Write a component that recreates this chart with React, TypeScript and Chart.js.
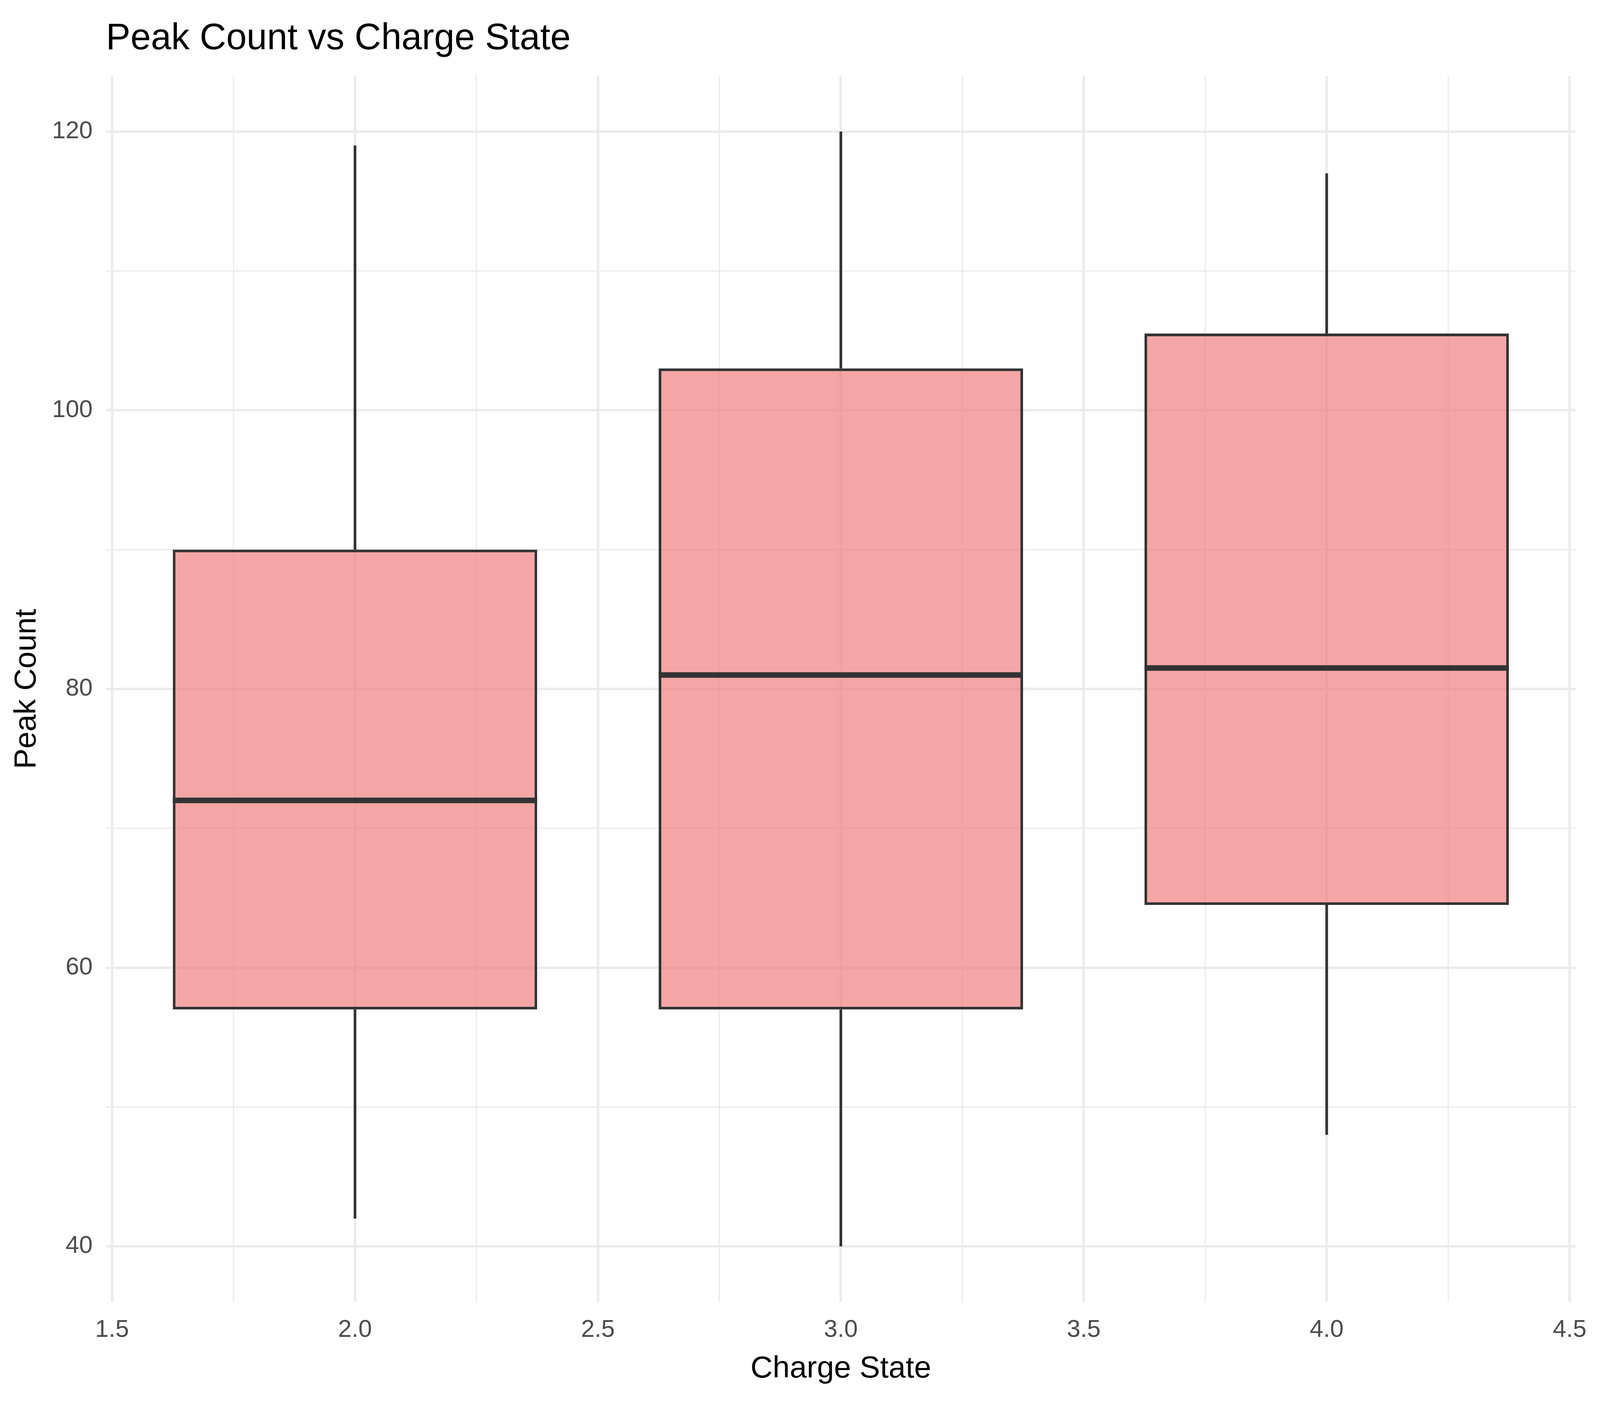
import { useEffect, useRef } from "react";
import { Chart, registerables } from "chart.js";

Chart.register(...registerables);

// box statistics per charge state
const chargeStates = [2, 3, 4];
const whiskerLow = [42, 40, 48];
const lowerQuartile = [57, 57, 64.5];
const medians = [72, 81, 81.5];
const upperQuartile = [90, 103, 105.5];
const whiskerHigh = [119, 120, 117];

// grid lines (major ones get labels)
const xMajorTicks = [1.5, 2, 2.5, 3, 3.5, 4, 4.5];
const xMinorTicks = [1.75, 2.25, 2.75, 3.25, 3.75, 4.25];
const yMajorTicks = [40, 60, 80, 100, 120];
const yMinorTicks = [50, 70, 90, 110];

const xRange = [1.4875, 4.5125];
const yRange = [36, 124];

const TITLE = "Peak Count vs Charge State";
const X_TITLE = "Charge State";
const Y_TITLE = "Peak Count";

const FONT = "'Liberation Sans', Arial, Helvetica, sans-serif";
const BOX_WIDTH = 0.75;
const GRID_STEP = 0.25; // bar width is measured against the smallest tick spacing
const DARK = "#333333";
const GRID = "#EBEBEB";

// sizes below are for a 4800 x 3600 picture and get scaled to the real viewport
const DESIGN_W = 4800;
const DESIGN_H = 3600;

const App = () => {
  const boxRef = useRef<HTMLDivElement | null>(null);
  const canvasRef = useRef<HTMLCanvasElement | null>(null);

  useEffect(() => {
    document.body.style.margin = "0";
    if (!canvasRef.current || !boxRef.current) return;

    const kx = boxRef.current.clientWidth / DESIGN_W;
    const ky = boxRef.current.clientHeight / DESIGN_H;
    const k = Math.min(kx, ky);

    const tickSize = 73 * k;
    const axisTitleSize = 92 * k;

    const titlePlugin = {
      id: "plotTitle",
      afterDraw(chart: Chart) {
        const { ctx, chartArea } = chart;
        ctx.save();
        ctx.font = `${110 * k}px ${FONT}`;
        ctx.fillStyle = "#000000";
        ctx.textAlign = "left";
        ctx.textBaseline = "alphabetic";
        ctx.fillText(TITLE, chartArea.left, 126 * ky);
        ctx.restore();
      }
    };

    const whiskers = chargeStates.map((x, i) => ({
      type: "line" as const,
      data: [
        { x, y: whiskerLow[i] },
        { x, y: lowerQuartile[i] },
        { x, y: null },
        { x, y: upperQuartile[i] },
        { x, y: whiskerHigh[i] }
      ],
      borderColor: DARK,
      borderWidth: 8 * k,
      pointRadius: 0,
      pointHoverRadius: 0,
      fill: false,
      spanGaps: false,
      order: 3
    }));

    const medianLines = chargeStates.map((x, i) => ({
      type: "line" as const,
      data: [
        { x: x - BOX_WIDTH / 2, y: medians[i] },
        { x: x + BOX_WIDTH / 2, y: medians[i] }
      ],
      borderColor: DARK,
      borderWidth: 16.7 * k,
      pointRadius: 0,
      pointHoverRadius: 0,
      fill: false,
      order: 1
    }));

    const boxes = {
      type: "bar" as const,
      data: chargeStates.map((x, i) => ({ x, y: [lowerQuartile[i], upperQuartile[i]] })),
      backgroundColor: "rgba(240, 128, 128, 0.7)",
      borderColor: DARK,
      borderWidth: 8 * k,
      borderSkipped: false,
      categoryPercentage: 1,
      barPercentage: BOX_WIDTH / GRID_STEP,
      order: 2
    };

    const xTicks = [...xMajorTicks, ...xMinorTicks].sort((a, b) => a - b);
    const yTicks = [...yMajorTicks, ...yMinorTicks].sort((a, b) => a - b);

    const chart = new Chart(canvasRef.current, {
      type: "bar",
      data: { datasets: [boxes, ...medianLines, ...whiskers] as any },
      plugins: [titlePlugin],
      options: {
        animation: false,
        responsive: true,
        maintainAspectRatio: false,
        layout: { padding: { top: 194 * ky, right: 47 * kx, bottom: 0, left: 0 } },
        plugins: {
          legend: { display: false },
          title: { display: false },
          tooltip: { enabled: false }
        },
        scales: {
          x: {
            type: "linear",
            min: xRange[0],
            max: xRange[1],
            offset: false,
            afterBuildTicks: (axis: any) => {
              axis.ticks = xTicks.map(value => ({ value }));
            },
            afterFit: (axis: any) => {
              axis.height = 266 * ky;
            },
            grid: {
              offset: false,
              color: GRID,
              drawTicks: false,
              lineWidth: (ctx: any) => (ctx.tick && xMajorTicks.includes(ctx.tick.value) ? 7.3 : 3.7) * k
            },
            border: { display: false },
            ticks: {
              autoSkip: false,
              maxRotation: 0,
              padding: 71.7 * ky - 0.6 * tickSize,
              color: "#4D4D4D",
              font: { family: FONT, size: tickSize },
              callback: (value: any) => (xMajorTicks.includes(Number(value)) ? Number(value).toFixed(1) : "")
            },
            title: {
              display: true,
              text: X_TITLE,
              color: "#000000",
              font: { family: FONT, size: axisTitleSize },
              padding: { top: 0, bottom: 95 * ky - 0.6 * axisTitleSize }
            }
          },
          y: {
            type: "linear",
            min: yRange[0],
            max: yRange[1],
            beginAtZero: false,
            afterBuildTicks: (axis: any) => {
              axis.ticks = yTicks.map(value => ({ value }));
            },
            afterFit: (axis: any) => {
              axis.width = 318 * kx;
            },
            grid: {
              color: GRID,
              drawTicks: false,
              lineWidth: (ctx: any) => (ctx.tick && yMajorTicks.includes(ctx.tick.value) ? 7.3 : 3.7) * k
            },
            border: { display: false },
            ticks: {
              autoSkip: false,
              padding: 40 * kx,
              color: "#4D4D4D",
              font: { family: FONT, size: tickSize },
              callback: (value: any) => (yMajorTicks.includes(Number(value)) ? String(value) : "")
            },
            title: {
              display: true,
              text: Y_TITLE,
              color: "#000000",
              font: { family: FONT, size: axisTitleSize },
              padding: { top: 81 * kx - 0.6 * axisTitleSize, bottom: 0 }
            }
          }
        }
      }
    });

    return () => {
      chart.destroy();
    };
  }, []);

  return (
    <div
      ref={boxRef}
      style={{ position: "fixed", left: 0, top: 0, width: "100vw", height: "100vh", background: "#ffffff" }}
    >
      <canvas ref={canvasRef}></canvas>
    </div>
  );
};

export default App;
